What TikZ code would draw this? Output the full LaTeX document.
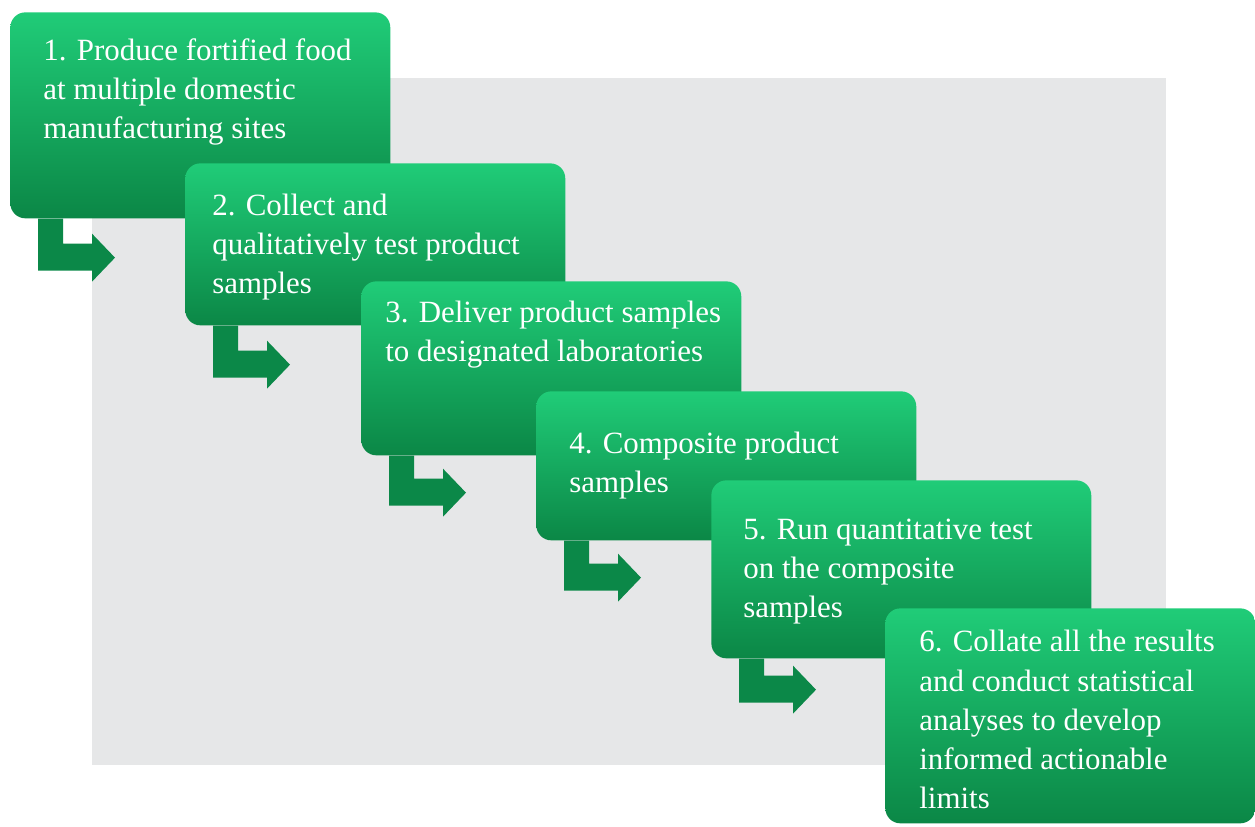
\documentclass[tikz,border=0pt]{standalone}
\usepackage{fontspec}
\setmainfont{Liberation Serif}
\usepackage{tikz}
\usetikzlibrary{calc}

\definecolor{boxtop}{HTML}{20CC78}
\definecolor{boxbot}{HTML}{0B8746}
\definecolor{turncol}{HTML}{0B8848}
\definecolor{backcol}{HTML}{E6E7E8}

% bent arrow under a box: #1 box name, #2 depth of the tip below it
\newcommand{\bentstep}[2]{%
	\fill[turn] ($(#1.south west)+(28,0)$) -- ++(25,0) -- ++(0,{#2-14}) -- ++(29,0)
		-- ++(0,-10) -- ++(23,24) -- ++(-23,24) -- ++(0,-11) -- ++(-54,0) -- cycle;
}

\begin{document}
\begin{tikzpicture}[
	x=0.02cm, y=-0.02cm
	,box/.style={anchor=north west, inner sep=0, rounded corners=0.3cm,
		top color=boxtop, bottom color=boxbot, minimum width=7.6cm}
	,txt/.style={anchor=base west, inner sep=0, align=left, text=white,
		font=\fontsize{17.6}{22.2}\selectfont}
	,turn/.style={fill=turncol}
	,backdrop/.style={fill=backcol}
]
	\useasboundingbox (0,0) rectangle (1255,826);
	\fill[backdrop] (92,78) rectangle (1166,765);

	% text nodes sit on the baseline of their last line
	\node[box, minimum height=4.12cm] (b1) at (10,12) {};
	\node[txt] (t1) at (43,138) {1. Produce fortified food\\at multiple domestic\\manufacturing sites};
	\bentstep{b1}{39}

	\node[box, minimum height=3.24cm] (b2) at (185,163) {};
	\node[txt] (t2) at (212,293) {2. Collect and\\qualitatively test product\\samples};
	\bentstep{b2}{39}

	\node[box, minimum height=3.48cm] (b3) at (361,281) {};
	\node[txt] (t3) at (385,361) {3. Deliver product samples\\to designated laboratories};
	\bentstep{b3}{37}

	\node[box, minimum height=2.98cm] (b4) at (536,391) {};
	\node[txt] (t4) at (569,492) {4. Composite product\\samples};
	\bentstep{b4}{37}

	\node[box, minimum height=3.56cm] (b5) at (711,480) {};
	\node[txt] (t5) at (743,617) {5. Run quantitative test\\on the composite\\samples};
	\bentstep{b5}{31}

	\node[box, minimum width=7.4cm, minimum height=4.3cm] (b6) at (885,608) {};
	\node[txt] (t6) at (919,808) {6. Collate all the results\\and conduct statistical\\analyses to develop\\informed actionable\\limits};
\end{tikzpicture}
\end{document}
